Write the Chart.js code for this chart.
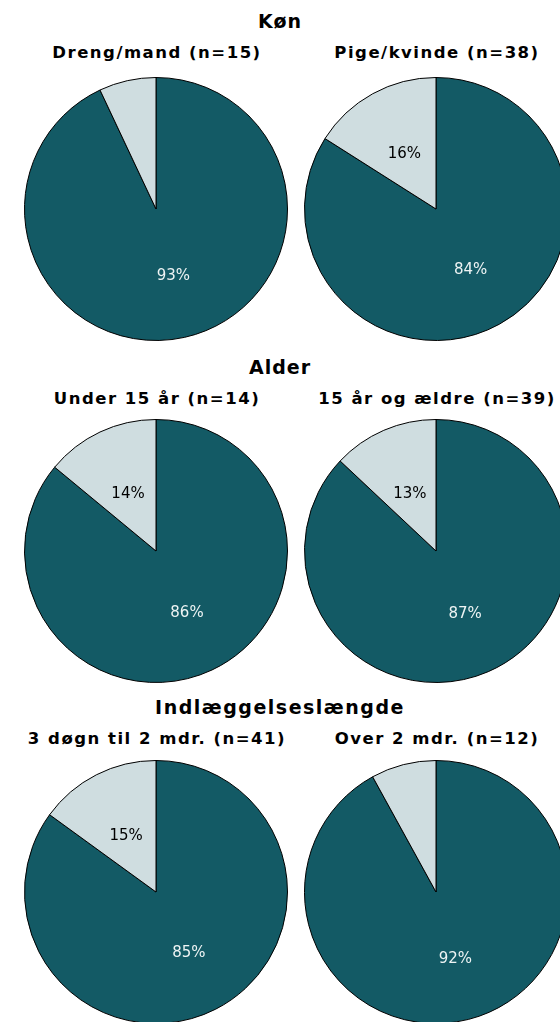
<!DOCTYPE html>
<html>
<head>
<meta charset="utf-8">
<script src="https://cdn.jsdelivr.net/npm/chart.js@4"></script>
<style>
  html, body { margin: 0; padding: 0; background: #fff; overflow: hidden; width: 560px; height: 1022px; }
  .wrap { position: relative; width: 560px; height: 1022px; overflow: hidden; }
  .title { position: absolute; left: 0; width: 560px; text-align: center; font: bold 19px "DejaVu Sans", sans-serif; color: #000; letter-spacing: 1px; }
  .sub { position: absolute; width: 320px; text-align: center; font: bold 16.5px "DejaVu Sans", sans-serif; color: #000; white-space: nowrap; letter-spacing: 1.5px; }
  canvas { position: absolute; }
</style>
</head>
<body>
<div class="wrap" id="wrap"></div>
<script>
// groups and subgroups
const groupTitles = ['Køn', 'Alder', 'Indlæggelseslængde'];
const subTitles = [
  ['Dreng/mand (n=15)', 'Pige/kvinde (n=38)'],
  ['Under 15 år (n=14)', '15 år og ældre (n=39)'],
  ['3 døgn til 2 mdr. (n=41)', 'Over 2 mdr. (n=12)']
];
// percent: dark share / light share
const darkValues = [[93, 84], [86, 87], [85, 92]];
const lightValues = [[7, 16], [14, 13], [15, 8]];

const darkColor = '#135a65';
const lightColor = '#cfdde0';

const rowTop = [0, 346, 686];
const pieCx = [156, 436];
const pieCy = [209, 551, 892];
const size = 264;

const pctLabels = {
  id: 'pctLabels',
  afterDatasetsDraw(chart) {
    const ctx = chart.ctx;
    const meta = chart.getDatasetMeta(0);
    const vals = chart.data.datasets[0].data;
    ctx.save();
    ctx.font = '15px "DejaVu Sans", sans-serif';
    ctx.textAlign = 'center';
    ctx.textBaseline = 'middle';
    meta.data.forEach((arc, i) => {
      if (vals[i] < 10) return;
      const p = arc.tooltipPosition();
      ctx.fillStyle = i === 0 ? '#eef4f4' : '#000';
      ctx.fillText(vals[i] + '%', p.x + (i === 0 ? 3 : 0), p.y + 3);
    });
    ctx.restore();
  }
};

const wrap = document.getElementById('wrap');
groupTitles.forEach((g, r) => {
  const t = document.createElement('div');
  t.className = 'title';
  t.style.top = (rowTop[r] + 10) + 'px';
  t.textContent = g;
  if (r === 2) t.style.letterSpacing = '1.5px';
  wrap.appendChild(t);

  for (let c = 0; c < 2; c++) {
    const s = document.createElement('div');
    s.className = 'sub';
    s.style.left = (pieCx[c] - 160 + 1) + 'px';
    s.style.top = (rowTop[r] + 43) + 'px';
    s.textContent = subTitles[r][c];
    wrap.appendChild(s);

    const cv = document.createElement('canvas');
    cv.width = size; cv.height = size;
    cv.style.left = (pieCx[c] - size / 2) + 'px';
    cv.style.top = (pieCy[r] - size / 2) + 'px';
    wrap.appendChild(cv);

    new Chart(cv.getContext('2d'), {
      type: 'pie',
      data: {
        labels: ['dark', 'light'],
        datasets: [{
          data: [darkValues[r][c], lightValues[r][c]],
          backgroundColor: [darkColor, lightColor],
          borderColor: '#000',
          borderWidth: 1
        }]
      },
      options: {
        responsive: false,
        animation: false,
        layout: { padding: 0 },
        plugins: { legend: { display: false }, tooltip: { enabled: false } }
      },
      plugins: [pctLabels]
    });
  }
});
</script>
</body>
</html>
